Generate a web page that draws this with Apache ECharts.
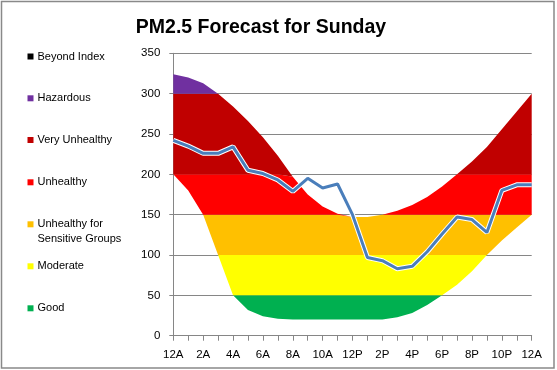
<!DOCTYPE html>
<html>
<head>
<meta charset="utf-8">
<script src="https://cdn.jsdelivr.net/npm/echarts@6/dist/echarts.min.js"></script>
<style>html,body{margin:0;padding:0;background:#fff}#c{width:557px;height:370px}</style>
</head>
<body>
<div id="c"></div>
<script>
// ---- data ----
var hours = ['12A','1A','2A','3A','4A','5A','6A','7A','8A','9A','10A','11A','12P','1P','2P','3P','4P','5P','6P','7P','8P','9P','10P','11P','12A'];
var pm25 = [242,235,226,226,234,205,201,193,179,195,183,188,150,97,93,83,86,104,126,147,144,128,180,187,187];
var lowerBound = [200,180,150,100,50,32,24,21,20,20,20,20,20,20,20,23,28,38,50,63,80,100,118,134,150];
var upperBound = [324,320,313,300,284,266,246,223,197,175,160,151,147,147,150,155,162,172,185,200,216,234,256,278,300];
var bandNames = ['Good','Moderate','Unhealthy for Sensitive Groups','Unhealthy','Very Unhealthy','Hazardous'];
var bandLimits = [0,50,100,150,200,300,500];
var bandColors = ['#00B050','#FFFF00','#FFC000','#FF0000','#C00000','#7030A0'];
var legendOrder = ['Beyond Index','Hazardous','Very Unhealthy','Unhealthy','Unhealthy for Sensitive Groups','Moderate','Good'];
var legendColors = {'Beyond Index':'#000000','Hazardous':'#7030A0','Very Unhealthy':'#C00000','Unhealthy':'#FF0000','Unhealthy for Sensitive Groups':'#FFC000','Moderate':'#FFFF00','Good':'#00B050'};

function clip(v,a,b){return Math.max(a,Math.min(b,v));}
var series = [{
  name:'base', type:'line', stack:'aqi', data:lowerBound, symbol:'none',
  lineStyle:{width:0,opacity:0}, silent:true, z:1
}];
bandNames.forEach(function(n,k){
  var lo = bandLimits[k], hi = bandLimits[k+1];
  series.push({
    name:n, type:'line', stack:'aqi', symbol:'none', z:2,
    color: bandColors[k],
    lineStyle:{width:0,opacity:0},
    areaStyle:{color:bandColors[k],opacity:1},
    data: upperBound.map(function(u,i){return clip(u,lo,hi)-clip(lowerBound[i],lo,hi);})
  });
});
series.push({name:'Beyond Index', type:'line', data:[], color:'#000000', symbol:'none'});
series.push({name:'pm-halo', type:'line', data:pm25, symbol:'none', z:5, silent:true,
  lineStyle:{color:'#ffffff',width:5}});
series.push({name:'PM2.5', type:'line', data:pm25, symbol:'none', z:6,
  lineStyle:{color:'#4A7EBB',width:3}});

var legendTops = [55.5,97.3,139,181.3,223.3,265.3,307.3];
var legends = legendOrder.map(function(n,i){
  return {
    data:[{name:n, itemStyle:{color:legendColors[n]}}],
    left:27.5, top:legendTops[i]-8.5, orient:'vertical',
    icon:'rect', itemWidth:6, itemHeight:6, itemGap:0,
    padding:[4,0,4,0],
    selectedMode:false,
    formatter: n==='Unhealthy for Sensitive Groups' ? function(){return 'Unhealthy for';} : undefined,
    textStyle:{fontFamily:'Liberation Sans',fontSize:11,color:'#000',padding:[0,0,0,-1]}
  };
});

var chart = echarts.init(document.getElementById('c'),null,{renderer:'canvas'});
chart.setOption({
  animation:false,
  backgroundColor:'#ffffff',
  title:{text:'PM2.5 Forecast for Sunday',left:256,textAlign:'center',top:13,
    textStyle:{fontFamily:'Liberation Sans',fontWeight:'bold',fontSize:19.5,color:'#000'}},
  legend:legends,
  grid:{left:173.3,right:25.3,top:53.3,bottom:34.3,containLabel:false},
  xAxis:{type:'category',data:hours,boundaryGap:false,
    axisLine:{lineStyle:{color:'#868686',width:1}},
    axisTick:{show:true,interval:0,length:5,lineStyle:{color:'#868686'}},
    axisLabel:{interval:1,margin:13,fontFamily:'Liberation Sans',fontSize:11.5,color:'#000'},
    splitLine:{show:false}},
  yAxis:{type:'value',min:0,max:350,interval:50,
    axisLine:{show:true,lineStyle:{color:'#868686',width:1}},
    axisTick:{show:true,length:4,lineStyle:{color:'#868686'}},
    axisLabel:{margin:13,fontFamily:'Liberation Sans',fontSize:11.5,color:'#000'},
    splitLine:{show:true,lineStyle:{color:'#868686',width:1}}},
  series:series,
  graphic:[
    {type:'rect',shape:{x:1.5,y:1.5,width:552.5,height:366.5},style:{fill:null,stroke:'#898989',lineWidth:1.5},silent:true,z:100},
    {type:'text',left:37.5,top:233,style:{text:'Sensitive Groups',font:'11px "Liberation Sans"',fill:'#000'}}
  ]
});
</script>
</body>
</html>
